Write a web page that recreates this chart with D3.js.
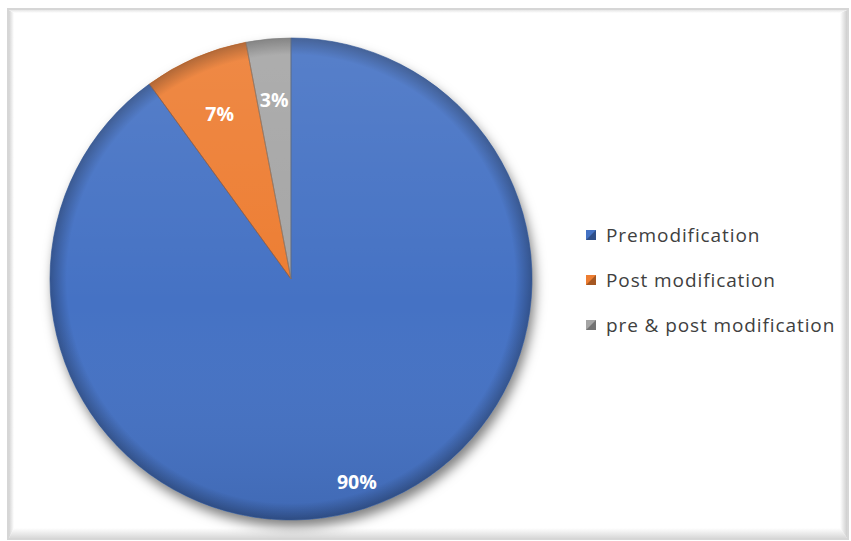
<!DOCTYPE html>
<html>
<head>
<meta charset="utf-8">
<script src="https://cdn.jsdelivr.net/npm/d3@7"></script>
<style>
  html, body { margin: 0; padding: 0; background: #ffffff; }
  svg { display: block; }
</style>
</head>
<body>
<svg id="chart" width="851" height="541"></svg>
<script>
// Share of items by modification type
const categories = ["Premodification", "Post modification", "pre & post modification"];
const shares = [90, 7, 3];
const sliceColors = ["#4472C4", "#ED7D31", "#A5A5A5"];

const W = 851, H = 541;
const svg = d3.select("#chart");
const defs = svg.append("defs");

// ---- frame with bevelled edges ----
const fx0 = 9, fy0 = 10, fx1 = 847, fy1 = 538;
svg.append("rect").attr("x", fx0 - 1).attr("y", fy0 - 1)
  .attr("width", fx1 - fx0 + 2).attr("height", fy1 - fy0 + 2)
  .attr("fill", "#ffffff").attr("stroke", "#d6d6d6").attr("stroke-width", 2);

function edgeGrad(id, x1, y1, x2, y2, c0, c1) {
  const g = defs.append("linearGradient").attr("id", id)
    .attr("x1", x1).attr("y1", y1).attr("x2", x2).attr("y2", y2);
  g.append("stop").attr("offset", "0%").attr("stop-color", c0);
  g.append("stop").attr("offset", "100%").attr("stop-color", c1);
}
edgeGrad("bevBottom", 0, 0, 0, 1, "#ffffff", "#d9d9d9");
edgeGrad("bevRight", 0, 0, 1, 0, "#ffffff", "#cfcfcf");
edgeGrad("bevLeft", 0, 0, 1, 0, "#d4d4d4", "#ffffff");
edgeGrad("bevTop", 0, 0, 0, 1, "#e6e6e6", "#ffffff");

const bw = 7, bh = 10, lw = 5, th = 3;
const bevel = svg.append("g");
bevel.append("path").attr("fill", "url(#bevBottom)")
  .attr("d", `M${fx0},${fy1} L${fx1},${fy1} L${fx1 - bw},${fy1 - bh} L${fx0 + lw},${fy1 - bh} Z`);
bevel.append("path").attr("fill", "url(#bevRight)")
  .attr("d", `M${fx1},${fy0} L${fx1},${fy1} L${fx1 - bw},${fy1 - bh} L${fx1 - bw},${fy0 + th} Z`);
bevel.append("path").attr("fill", "url(#bevLeft)")
  .attr("d", `M${fx0},${fy0} L${fx0},${fy1} L${fx0 + lw},${fy1 - bh} L${fx0 + lw},${fy0 + th} Z`);
bevel.append("path").attr("fill", "url(#bevTop)")
  .attr("d", `M${fx0},${fy0} L${fx1},${fy0} L${fx1 - bw},${fy0 + th} L${fx0 + lw},${fy0 + th} Z`);

// ---- pie ----
const cx = 291, cy = 279, R = 241;

const shadow = defs.append("filter").attr("id", "pieShadow")
  .attr("x", "-20%").attr("y", "-20%").attr("width", "140%").attr("height", "140%");
shadow.append("feDropShadow").attr("dx", 3).attr("dy", 7)
  .attr("stdDeviation", 6).attr("flood-color", "#000").attr("flood-opacity", 0.5);

// soft rim shading over each slice
const rim = defs.append("radialGradient").attr("id", "rimShade")
  .attr("gradientUnits", "userSpaceOnUse")
  .attr("cx", 0).attr("cy", 0).attr("r", R);
rim.append("stop").attr("offset", "0%").attr("stop-color", "#000").attr("stop-opacity", 0);
rim.append("stop").attr("offset", "93%").attr("stop-color", "#000").attr("stop-opacity", 0);
rim.append("stop").attr("offset", "100%").attr("stop-color", "#000").attr("stop-opacity", 0.28);

const light = defs.append("linearGradient").attr("id", "topLight")
  .attr("gradientUnits", "userSpaceOnUse")
  .attr("x1", 0).attr("y1", -R).attr("x2", 0).attr("y2", R);
light.append("stop").attr("offset", "0%").attr("stop-color", "#fff").attr("stop-opacity", 0.10);
light.append("stop").attr("offset", "55%").attr("stop-color", "#fff").attr("stop-opacity", 0);
light.append("stop").attr("offset", "100%").attr("stop-color", "#000").attr("stop-opacity", 0.08);

const pie = d3.pie().sort(null).value(d => d)
  .startAngle(0).endAngle(2 * Math.PI);
const arcs = pie(shares);
const arc = d3.arc().innerRadius(0).outerRadius(R);

const g = svg.append("g").attr("transform", `translate(${cx},${cy})`);
const base = g.append("g").attr("filter", "url(#pieShadow)");
base.selectAll("path.slice").data(arcs).enter().append("path")
  .attr("class", "slice")
  .attr("d", arc)
  .attr("fill", (d, i) => sliceColors[i]);

g.selectAll("path.rim").data(arcs).enter().append("path")
  .attr("d", arc).attr("fill", "url(#rimShade)");
g.selectAll("path.lit").data(arcs).enter().append("path")
  .attr("d", arc).attr("fill", "url(#topLight)");
// thin darker slice edges
g.selectAll("path.edge").data(arcs).enter().append("path")
  .attr("d", arc).attr("fill", "none")
  .attr("stroke", (d, i) => d3.color(sliceColors[i]).darker(0.8))
  .attr("stroke-width", 1).attr("stroke-opacity", 0.6);

// data labels
const labelFrac = i => (i === 0 ? 0.885 : 0.745);
g.selectAll("text.lbl").data(arcs).enter().append("text")
  .attr("class", "lbl")
  .attr("transform", (d, i) => {
    const a = (d.startAngle + d.endAngle) / 2;
    const r = R * labelFrac(i);
    return `translate(${r * Math.sin(a)},${-r * Math.cos(a)})`;
  })
  .attr("text-anchor", "middle").attr("dy", "0.35em")
  .attr("fill", "#ffffff").attr("font-weight", "bold")
  .attr("font-family", "'Open Sans', Lato, sans-serif").attr("font-size", 19.5)
  .text(d => d3.format(".0f")(d.data) + "%");

// ---- legend ----
const legend = svg.append("g").attr("transform", "translate(586,235)");
const rowY = d3.scalePoint().domain(categories).range([0, 90]);
const items = legend.selectAll("g.item").data(categories).enter().append("g")
  .attr("class", "item")
  .attr("transform", d => `translate(0,${rowY(d)})`);
items.append("rect").attr("x", 0).attr("y", -5).attr("width", 10).attr("height", 10)
  .attr("fill", (d, i) => sliceColors[i]);
// bevelled marker facets
items.append("path").attr("d", "M0,5 L10,-5 L10,5 Z")
  .attr("fill", "#000").attr("fill-opacity", 0.3);
items.append("text").attr("x", 20).attr("dy", "0.35em")
  .attr("fill", "#404040")
  .attr("font-family", "'Open Sans', Lato, sans-serif").attr("font-size", 19)
  .attr("letter-spacing", 0.9)
  .text(d => d);
</script>
</body>
</html>
